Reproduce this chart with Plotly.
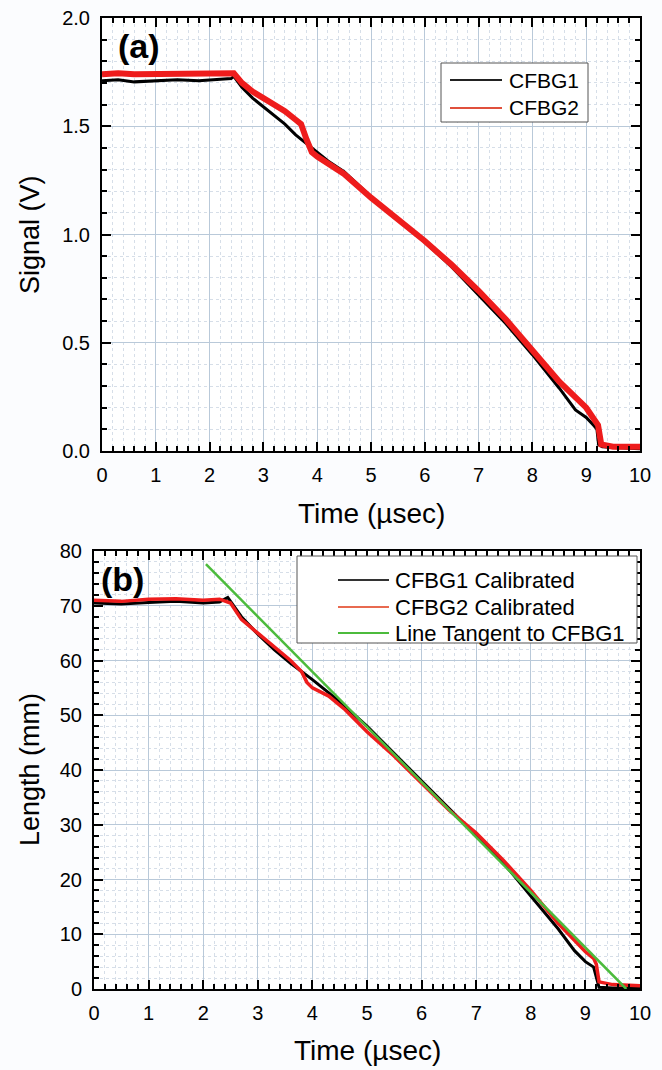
import plotly.graph_objects as go

# ---- Panel (a): Signal (V) vs Time (usec) ----
t_cfbg1 = [0, 0.3, 0.6, 1.0, 1.4, 1.8, 2.2, 2.4, 2.45, 2.6, 2.8, 3.0, 3.2, 3.4, 3.6, 3.8,
           4.0, 4.2, 4.5, 5.0, 5.5, 6.0, 6.5, 7.0, 7.5, 8.0, 8.5, 8.8, 9.0, 9.15, 9.2, 9.23,
           9.3, 9.6, 10.0]
v_cfbg1 = [1.71, 1.715, 1.705, 1.71, 1.715, 1.71, 1.715, 1.72, 1.73, 1.68, 1.63, 1.59, 1.55,
           1.51, 1.46, 1.42, 1.38, 1.34, 1.29, 1.175, 1.07, 0.965, 0.85, 0.72, 0.59, 0.445,
           0.29, 0.19, 0.155, 0.115, 0.10, 0.03, 0.02, 0.015, 0.01]

t_cfbg2 = [0, 0.3, 0.6, 1.0, 1.4, 1.8, 2.2, 2.45, 2.6, 2.8, 3.0, 3.2, 3.4, 3.6, 3.7, 3.8,
           3.9, 4.0, 4.2, 4.5, 5.0, 5.5, 6.0, 6.5, 7.0, 7.5, 8.0, 8.5, 9.0, 9.15, 9.22, 9.28,
           9.5, 10.0]
v_cfbg2 = [1.74, 1.745, 1.74, 1.74, 1.745, 1.74, 1.745, 1.745, 1.70, 1.66, 1.63, 1.60, 1.57,
           1.53, 1.51, 1.44, 1.38, 1.36, 1.33, 1.28, 1.17, 1.07, 0.97, 0.86, 0.74, 0.61,
           0.47, 0.32, 0.20, 0.15, 0.12, 0.03, 0.02, 0.02]

# ---- Panel (b): Length (mm) vs Time (usec) ----
t_cal1 = [0, 0.5, 1, 1.5, 2, 2.3, 2.45, 2.5, 2.7, 3.0, 3.3, 3.6, 4.0, 4.5, 5.0, 5.5, 6.0,
          6.5, 7.0, 7.5, 8.0, 8.5, 8.8, 9.0, 9.15, 9.2, 9.25, 9.5, 10]
L_cal1 = [70.5, 70.3, 70.6, 70.8, 70.5, 70.7, 71.5, 70.8, 68, 64.8, 62, 59.5, 56.5, 52.5,
          48, 43, 38, 33, 28, 23, 17, 11, 7, 5, 4, 2, 0.3, 0.2, 0.2]

t_cal2 = [0, 0.5, 1, 1.5, 2, 2.3, 2.5, 2.7, 3.0, 3.3, 3.6, 3.8, 3.9, 4.0, 4.3, 4.6, 5.0,
          5.5, 6.0, 6.5, 7.0, 7.5, 8.0, 8.5, 9.0, 9.15, 9.2, 9.25, 9.5, 10]
L_cal2 = [71, 70.8, 71.2, 71.3, 71, 71.2, 70.5, 67.5, 65, 62.5, 60, 58, 56, 55, 53.5, 51,
          47, 42.5, 37.5, 32.7, 28.5, 23.5, 18, 12, 6.8, 5.6, 4.5, 1.3, 0.8, 0.6]

t_tangent = [2.05, 9.75]
L_tangent = [77.6, 0]

x_ticks = list(range(0, 11))

legend_a = ["CFBG1", "CFBG2"]
legend_b = ["CFBG1 Calibrated", "CFBG2 Calibrated", "Line Tangent to CFBG1"]

W, H = 662, 1070
FONT = "Liberation Sans, Arial, sans-serif"

def px(x):
    return x / W

def py(y):
    return 1 - y / H

C_BLACK = "black"
C_RED = "#ee1c1c"
C_GREEN = "#4cbb3c"

fig = go.Figure()

fig.add_trace(go.Scatter(x=t_cfbg1, y=v_cfbg1, mode="lines", name=legend_a[0],
                         line=dict(color=C_BLACK, width=3), xaxis="x", yaxis="y",
                         showlegend=False))
fig.add_trace(go.Scatter(x=t_cfbg2, y=v_cfbg2, mode="lines", name=legend_a[1],
                         line=dict(color=C_RED, width=6), xaxis="x", yaxis="y",
                         showlegend=False))

fig.add_trace(go.Scatter(x=t_cal1, y=L_cal1, mode="lines", name=legend_b[0],
                         line=dict(color=C_BLACK, width=3), xaxis="x2", yaxis="y2",
                         showlegend=False))
fig.add_trace(go.Scatter(x=t_cal2, y=L_cal2, mode="lines", name=legend_b[1],
                         line=dict(color=C_RED, width=3.5), xaxis="x2", yaxis="y2",
                         showlegend=False))
fig.add_trace(go.Scatter(x=t_tangent, y=L_tangent, mode="lines", name=legend_b[2],
                         line=dict(color=C_GREEN, width=2.5), xaxis="x2", yaxis="y2",
                         showlegend=False))

grid_major = "#b9c9d9"
grid_minor = "#d6dee8"

def xaxis_cfg(domain, anchor):
    return dict(
        domain=domain, anchor=anchor, range=[0, 10], tickvals=x_ticks,
        ticks="inside", ticklen=9, tickwidth=2, tickcolor="black",
        showline=True, linecolor="black", linewidth=2, mirror="ticks",
        showgrid=True, gridcolor=grid_major, gridwidth=1,
        zeroline=False, automargin=False, ticklabelstandoff=5,
        tickfont=dict(family=FONT, size=20, color="black"),
        minor=dict(dtick=0.2, ticks="inside", ticklen=5, tickwidth=1.5, tickcolor="black",
                   showgrid=True, gridcolor=grid_minor, griddash="dot", gridwidth=1),
    )

def yaxis_cfg(domain, anchor, rng, dtick, mdtick, fmt):
    return dict(
        domain=domain, anchor=anchor, range=rng, dtick=dtick, tick0=0,
        tickformat=fmt,
        ticks="inside", ticklen=9, tickwidth=2, tickcolor="black",
        showline=True, linecolor="black", linewidth=2, mirror="ticks",
        showgrid=True, gridcolor=grid_major, gridwidth=1,
        zeroline=False, automargin=False, ticklabelstandoff=6,
        tickfont=dict(family=FONT, size=20, color="black"),
        minor=dict(dtick=mdtick, ticks="inside", ticklen=5, tickwidth=1.5, tickcolor="black",
                   showgrid=True, gridcolor=grid_minor, griddash="dot", gridwidth=1),
    )

fig.update_layout(
    width=W, height=H,
    margin=dict(l=0, r=0, t=0, b=0),
    paper_bgcolor="#fbfcfe",
    plot_bgcolor="#ffffff",
    font=dict(family=FONT, color="black"),
    xaxis=xaxis_cfg([px(102), px(640)], "y"),
    yaxis=yaxis_cfg([py(451), py(18)], "x", [0, 2.0], 0.5, 0.1, ".1f"),
    xaxis2=xaxis_cfg([px(94), px(640)], "y2"),
    yaxis2=yaxis_cfg([py(989), py(551)], "x2", [0, 80], 10, 2, "d"),
    showlegend=False,
)

# ---- custom legends (boxes, line samples, labels) ----
shapes = []
ann = []

def legend_box(x0, y0, x1, y1, lx0, lx1, tx, rows, labels, colors, size):
    shapes.append(dict(type="rect", xref="paper", yref="paper",
                       x0=px(x0), x1=px(x1), y0=py(y1), y1=py(y0),
                       fillcolor="white", line=dict(color="#555555", width=1), layer="above"))
    for yr, lab, col in zip(rows, labels, colors):
        shapes.append(dict(type="line", xref="paper", yref="paper",
                           x0=px(lx0), x1=px(lx1), y0=py(yr), y1=py(yr),
                           line=dict(color=col, width=2), layer="above"))
        ann.append(dict(text=lab, x=px(tx), y=py(yr), xanchor="left", yanchor="middle",
                        font=dict(family=FONT, size=size, color="black"), showarrow=False))

legend_box(441, 63, 588, 122, 450, 502, 507, [80, 108], legend_a,
           ["#222222", "#e0503c"], 21)
legend_box(297, 556, 637, 643, 338, 389, 393, [580, 607, 633], legend_b,
           ["#333333", "#e86a50", C_GREEN], 22)

ann += [
    dict(text="<b>(a)</b>", x=px(116), y=py(46), xanchor="left", yanchor="middle",
         font=dict(family=FONT, size=34, color="black"), showarrow=False),
    dict(text="<b>(b)</b>", x=px(99), y=py(579), xanchor="left", yanchor="middle",
         font=dict(family=FONT, size=34, color="black"), showarrow=False),
    dict(text="Signal (V)", x=px(30), y=py(235), textangle=-90,
         xanchor="center", yanchor="middle",
         font=dict(family=FONT, size=27, color="black"), showarrow=False),
    dict(text="Length (mm)", x=px(30), y=py(770), textangle=-90,
         xanchor="center", yanchor="middle",
         font=dict(family=FONT, size=27, color="black"), showarrow=False),
    dict(text="Time (µsec)", x=px(371), y=py(513), xanchor="center", yanchor="middle",
         font=dict(family=FONT, size=28, color="black"), showarrow=False),
    dict(text="Time (µsec)", x=px(367), y=py(1050), xanchor="center", yanchor="middle",
         font=dict(family=FONT, size=28, color="black"), showarrow=False),
]
for a in ann:
    a.update(xref="paper", yref="paper")
fig.update_layout(annotations=ann, shapes=shapes)

fig.write_html("out.html")
